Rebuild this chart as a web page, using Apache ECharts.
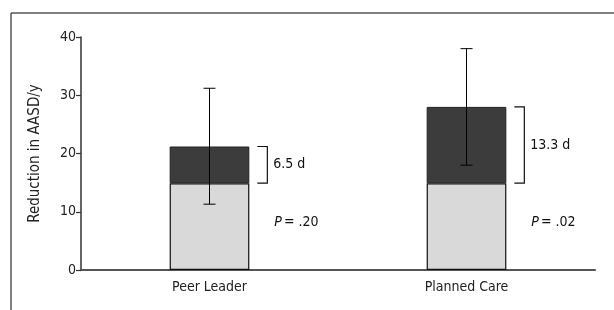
<!DOCTYPE html>
<html>
<head>
<meta charset="utf-8">
<script src="https://cdn.jsdelivr.net/npm/echarts@6/dist/echarts.min.js"></script>
<style>
  html, body { margin: 0; padding: 0; background: #fff; }
  #chart { width: 614px; height: 310px; }
</style>
</head>
<body>
<div id="chart"></div>
<script>
// values
const categories = ['Peer Leader', 'Planned Care'];
const baseValues = [14.9, 14.9];
const totalValues = [21.2, 28.0];
const errLow = [11.3, 18.0];
const errHigh = [31.2, 38.0];
const diffLabels = ['6.5 d', '13.3 d'];
const pLabels = ['.20', '.02'];
const pLabelLevel = [8.1, 8.1];

const FONT = '"DejaVu Sans Condensed", "Liberation Sans", Arial, sans-serif';
const BAR_FRAC = 0.31;

const topValues = totalValues.map((t, i) => +(t - baseValues[i]).toFixed(2));

const chart = echarts.init(document.getElementById('chart'));

chart.setOption({
  animation: false,
  graphic: [
    { type: 'line', shape: { x1: 11, y1: 13, x2: 614, y2: 13 }, style: { stroke: '#555', lineWidth: 1.5 } },
    { type: 'line', shape: { x1: 11, y1: 13, x2: 11, y2: 310 }, style: { stroke: '#555', lineWidth: 1.5 } }
  ],
  grid: { left: 81, right: 19, top: 37, bottom: 40 },
  xAxis: {
    type: 'category',
    data: categories,
    axisLine: { lineStyle: { color: '#555', width: 2 } },
    axisTick: { show: false },
    axisLabel: { color: '#222', fontFamily: FONT, fontSize: 14, margin: 10 }
  },
  yAxis: {
    type: 'value',
    min: 0,
    max: 40,
    interval: 10,
    name: 'Reduction in AASD/y',
    nameLocation: 'middle',
    nameGap: 38,
    nameTextStyle: { color: '#222', fontFamily: FONT, fontSize: 15 },
    splitLine: { show: false },
    axisLine: { show: true, lineStyle: { color: '#333', width: 1.5 } },
    axisTick: { show: true, length: 5, lineStyle: { color: '#333', width: 1.2 } },
    axisLabel: { color: '#222', fontFamily: FONT, fontSize: 14, margin: 5 }
  },
  series: [
    {
      type: 'bar',
      stack: 'a',
      barWidth: (BAR_FRAC * 100) + '%',
      data: baseValues,
      itemStyle: { color: '#d9d9d9', borderColor: '#111', borderWidth: 1.2 }
    },
    {
      type: 'bar',
      stack: 'a',
      data: topValues,
      itemStyle: { color: '#3c3c3c', borderColor: '#222', borderWidth: 1 }
    },
    {
      // error bars
      type: 'custom',
      z: 10,
      data: categories.map((c, i) => [i, errLow[i], errHigh[i]]),
      renderItem: function (params, api) {
        const i = api.value(0);
        const lo = api.coord([i, api.value(1)]);
        const hi = api.coord([i, api.value(2)]);
        const cap = 6;
        const st = { stroke: '#000', lineWidth: 1 };
        return {
          type: 'group',
          children: [
            { type: 'line', shape: { x1: lo[0], y1: lo[1], x2: hi[0], y2: hi[1] }, style: st },
            { type: 'line', shape: { x1: hi[0] - cap, y1: hi[1], x2: hi[0] + cap, y2: hi[1] }, style: st },
            { type: 'line', shape: { x1: lo[0] - cap, y1: lo[1], x2: lo[0] + cap, y2: lo[1] }, style: st }
          ]
        };
      }
    },
    {
      // brackets with difference labels and P values
      type: 'custom',
      z: 10,
      data: categories.map((c, i) => [i, baseValues[i], totalValues[i], pLabelLevel[i]]),
      renderItem: function (params, api) {
        const i = api.value(0);
        const bottom = api.coord([i, api.value(1)]);
        const top = api.coord([i, api.value(2)]);
        const pPos = api.coord([i, api.value(3)]);
        const half = api.size([1, 0])[0] * BAR_FRAC / 2;
        const bx = bottom[0] + half + 18;
        const st = { stroke: '#111', lineWidth: 1.2, fill: null };
        return {
          type: 'group',
          children: [
            {
              type: 'polyline',
              shape: { points: [[bx - 10, top[1]], [bx, top[1]], [bx, bottom[1]], [bx - 10, bottom[1]]] },
              style: st
            },
            {
              type: 'text',
              x: bx + 6,
              y: (top[1] + bottom[1]) / 2,
              style: {
                text: diffLabels[i],
                fill: '#111',
                font: '14px ' + FONT,
                verticalAlign: 'middle',
                align: 'left'
              }
            },
            {
              type: 'text',
              x: bx + 7,
              y: pPos[1],
              style: {
                text: '{i|P}{n|= ' + pLabels[i] + '}',
                verticalAlign: 'middle',
                align: 'left',
                rich: {
                  i: { fontStyle: 'italic', fontFamily: FONT, fontSize: 14, fill: '#111', padding: [0, 2, 0, 0] },
                  n: { fontFamily: FONT, fontSize: 14, fill: '#111' }
                }
              }
            }
          ]
        };
      }
    }
  ]
});
</script>
</body>
</html>
